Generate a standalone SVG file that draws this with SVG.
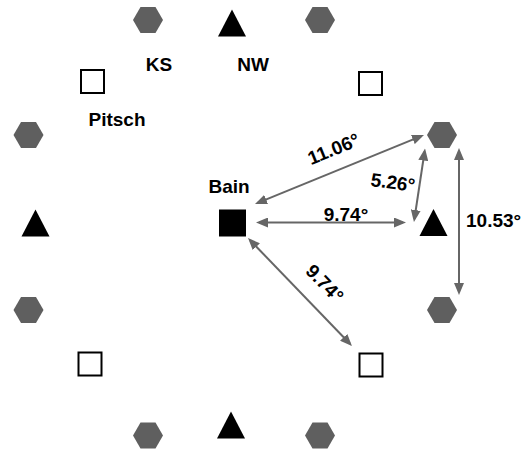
<svg xmlns="http://www.w3.org/2000/svg" xmlns:xlink="http://www.w3.org/1999/xlink" width="528" height="452" viewBox="0 0 528 452">
  <style>
    .hex { fill: #5f5f5f; }
    .tri { fill: #000; }
    .open { fill: #fff; stroke: #000; stroke-width: 2; }
    .solid { fill: #000; }
    .lbl { font-family: "Liberation Sans", Arial, sans-serif; font-weight: bold; font-size: 19px; fill: #000; }
    .conn { stroke: #666; stroke-width: 2; fill: none; marker-start: url(#head); marker-end: url(#head); }
  </style>
  <defs>
    <path id="hexshape" d="M-15,0 L-7.5,-13 L7.5,-13 L15,0 L7.5,13 L-7.5,13 Z"/>
    <path id="trishape" d="M0,-13.5 L14,13.5 L-14,13.5 Z"/>
    <marker id="head" viewBox="0 0 12 10" refX="9" refY="5" markerWidth="12" markerHeight="10" markerUnits="userSpaceOnUse" orient="auto-start-reverse">
      <path d="M0,0 L12,5 L0,10 Z" fill="#666"/>
    </marker>
  </defs>

  <!-- hexagons -->
  <g id="hex-top-left"><use xlink:href="#hexshape" href="#hexshape" class="hex" x="148" y="20"/></g>
  <g id="hex-top-right"><use xlink:href="#hexshape" href="#hexshape" class="hex" x="320" y="20"/></g>
  <g id="hex-left-upper"><use xlink:href="#hexshape" href="#hexshape" class="hex" x="28.5" y="135"/></g>
  <g id="hex-left-lower"><use xlink:href="#hexshape" href="#hexshape" class="hex" x="28.5" y="310"/></g>
  <g id="hex-right-upper"><use xlink:href="#hexshape" href="#hexshape" class="hex" x="442" y="135"/></g>
  <g id="hex-right-lower"><use xlink:href="#hexshape" href="#hexshape" class="hex" x="442" y="310"/></g>
  <g id="hex-bottom-left"><use xlink:href="#hexshape" href="#hexshape" class="hex" x="148" y="435.5"/></g>
  <g id="hex-bottom-right"><use xlink:href="#hexshape" href="#hexshape" class="hex" x="320" y="435.5"/></g>

  <!-- triangles -->
  <g id="tri-top"><use xlink:href="#trishape" href="#trishape" class="tri" x="232" y="23"/></g>
  <g id="tri-left"><use xlink:href="#trishape" href="#trishape" class="tri" x="35.5" y="223"/></g>
  <g id="tri-right"><use xlink:href="#trishape" href="#trishape" class="tri" x="433.5" y="222.5"/></g>
  <g id="tri-bottom"><use xlink:href="#trishape" href="#trishape" class="tri" x="231" y="425"/></g>

  <!-- open squares -->
  <g id="sq-top-left"><rect class="open" x="81" y="70" width="23" height="23"/></g>
  <g id="sq-top-right"><rect class="open" x="359" y="72" width="23" height="23"/></g>
  <g id="sq-bottom-left"><rect class="open" x="78.5" y="352.5" width="23" height="23"/></g>
  <g id="sq-bottom-right"><rect class="open" x="359.5" y="353.5" width="23" height="23"/></g>

  <!-- Bain (filled square) -->
  <g id="bain">
    <rect class="solid" x="219" y="209.5" width="27" height="27"/>
    <text class="lbl" x="229" y="193" text-anchor="middle">Bain</text>
  </g>

  <!-- labels -->
  <g id="label-ks"><text class="lbl" x="159" y="71" text-anchor="middle">KS</text></g>
  <g id="label-nw"><text class="lbl" x="253" y="71" text-anchor="middle">NW</text></g>
  <g id="label-pitsch"><text class="lbl" x="117" y="126" text-anchor="middle">Pitsch</text></g>

  <!-- connectors -->
  <g id="connectors">
    <line class="conn" x1="257.8" y1="202.9" x2="421.2" y2="136.1"/>
    <line class="conn" x1="424.6" y1="151.5" x2="414.4" y2="219"/>
    <line class="conn" x1="259" y1="222.5" x2="403" y2="222.5"/>
    <line class="conn" x1="459" y1="151" x2="459" y2="292"/>
    <line class="conn" x1="250.1" y1="240.2" x2="349.9" y2="343.8"/>
  </g>

  <!-- connector labels -->
  <g id="connector-labels">
    <text class="lbl" text-anchor="middle" transform="translate(336,155) rotate(-22)">11.06°</text>
    <text class="lbl" text-anchor="middle" transform="translate(392,189) rotate(8)">5.26°</text>
    <text class="lbl" x="346" y="221" text-anchor="middle">9.74°</text>
    <text class="lbl" x="466" y="227">10.53°</text>
    <text class="lbl" text-anchor="middle" transform="translate(320,288) rotate(46)">9.74°</text>
  </g>
</svg>
